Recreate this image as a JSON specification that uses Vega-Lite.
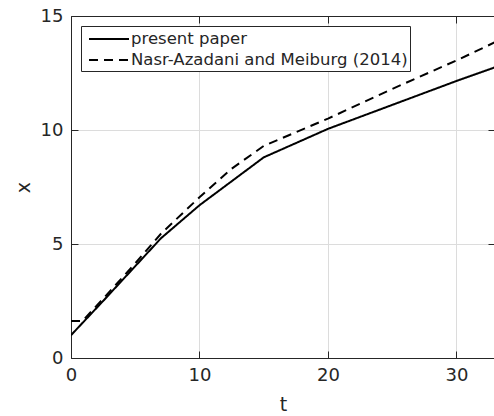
{
  "$schema": "https://vega.github.io/schema/vega-lite/v6.json",
  "width": 424,
  "height": 342,
  "autosize": {"type": "none"},
  "padding": {"left": 71, "top": 16, "right": 0, "bottom": 58},
  "background": "white",
  "config": {
    "view": {"stroke": null},
    "font": "DejaVu Sans",
    "axis": {
      "domainColor": "#262626",
      "domainWidth": 1,
      "tickColor": "#262626",
      "tickWidth": 1,
      "labelColor": "#262626",
      "titleColor": "#262626",
      "labelFont": "DejaVu Sans",
      "titleFont": "DejaVu Sans",
      "labelFontSize": 18,
      "titleFontSize": 19,
      "titleFontWeight": "normal",
      "labelFlush": false,
      "gridColor": "#dcdcdc",
      "gridWidth": 1
    }
  },
  "data": {
    "values": [
      {"t": 0, "x": 1.0, "s": "present paper"},
      {"t": 2.5, "x": 2.5, "s": "present paper"},
      {"t": 7, "x": 5.25, "s": "present paper"},
      {"t": 10, "x": 6.7, "s": "present paper"},
      {"t": 15, "x": 8.8, "s": "present paper"},
      {"t": 20, "x": 10.05, "s": "present paper"},
      {"t": 25, "x": 11.1, "s": "present paper"},
      {"t": 30, "x": 12.15, "s": "present paper"},
      {"t": 33, "x": 12.75, "s": "present paper"},
      {"t": 0, "x": 1.62, "s": "Nasr-Azadani and Meiburg (2014)"},
      {"t": 0.9, "x": 1.63, "s": "Nasr-Azadani and Meiburg (2014)"},
      {"t": 2.5, "x": 2.6, "s": "Nasr-Azadani and Meiburg (2014)"},
      {"t": 5, "x": 4.15, "s": "Nasr-Azadani and Meiburg (2014)"},
      {"t": 7, "x": 5.45, "s": "Nasr-Azadani and Meiburg (2014)"},
      {"t": 10, "x": 7.05, "s": "Nasr-Azadani and Meiburg (2014)"},
      {"t": 12.5, "x": 8.3, "s": "Nasr-Azadani and Meiburg (2014)"},
      {"t": 15, "x": 9.3, "s": "Nasr-Azadani and Meiburg (2014)"},
      {"t": 17.5, "x": 9.9, "s": "Nasr-Azadani and Meiburg (2014)"},
      {"t": 20, "x": 10.5, "s": "Nasr-Azadani and Meiburg (2014)"},
      {"t": 25, "x": 11.8, "s": "Nasr-Azadani and Meiburg (2014)"},
      {"t": 30, "x": 13.05, "s": "Nasr-Azadani and Meiburg (2014)"},
      {"t": 33, "x": 13.85, "s": "Nasr-Azadani and Meiburg (2014)"}
    ]
  },
  "layer": [
    {
      "mark": {"type": "line", "color": "black", "strokeWidth": 2, "clip": true},
      "encoding": {
        "x": {"field": "t", "type": "quantitative", "scale": {"domain": [0, 33], "nice": false, "zero": false},
          "axis": {"title": "t", "values": [0, 10, 20, 30], "tickSize": -7, "labelPadding": 15, "titlePadding": 11, "grid": true}},
        "y": {"field": "x", "type": "quantitative", "scale": {"domain": [0, 15], "nice": false},
          "axis": {"title": "x", "values": [0, 5, 10, 15], "tickSize": -7, "labelPadding": 15, "titlePadding": 7, "grid": true}},
        "strokeDash": {"field": "s", "type": "nominal",
          "scale": {"domain": ["present paper", "Nasr-Azadani and Meiburg (2014)"], "range": [[1, 0], [9, 6]]},
          "legend": {
            "title": null, "orient": "none", "legendX": 10, "legendY": 10,
            "symbolType": "M-2,0L2,0", "symbolSize": 400, "symbolStrokeWidth": 2, "symbolStrokeColor": "black",
            "symbolOffset": 15,
            "labelFontSize": 16.5, "labelColor": "#262626", "labelFont": "DejaVu Sans", "labelOffset": 11,
            "strokeColor": "#262626", "fillColor": "white", "padding": 2, "rowPadding": 1, "labelLimit": 400
          }}
      }
    },
    {
      "mark": {"type": "rule", "opacity": 0},
      "encoding": {
        "x": {"field": "t", "type": "quantitative", "scale": {"domain": [0, 33], "nice": false, "zero": false},
          "axis": {"orient": "top", "title": null, "labels": false, "values": [0, 10, 20, 30], "tickSize": -7, "grid": false}},
        "y": {"field": "x", "type": "quantitative", "scale": {"domain": [0, 15], "nice": false},
          "axis": {"orient": "right", "title": null, "labels": false, "values": [0, 5, 10, 15], "tickSize": -7, "grid": false}}
      }
    }
  ],
  "resolve": {"axis": {"x": "independent", "y": "independent"}}
}
